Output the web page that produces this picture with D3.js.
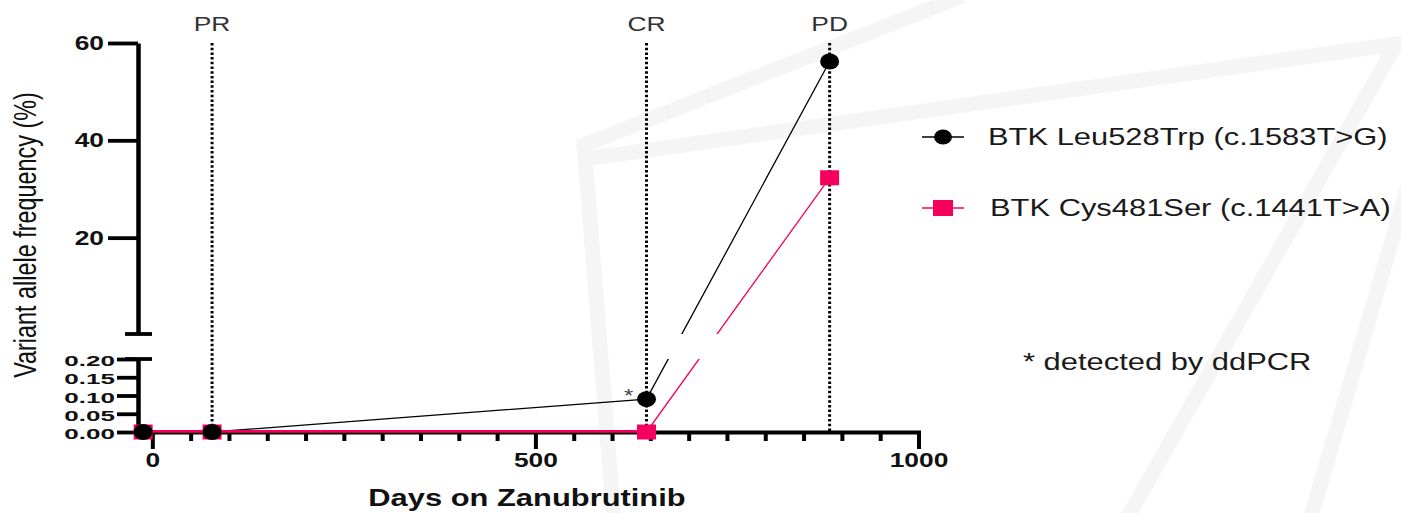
<!DOCTYPE html>
<html>
<head>
<meta charset="utf-8">
<script src="https://cdn.jsdelivr.net/npm/d3@7"></script>
<style>
  body { margin: 0; background: #fff; }
  svg { display: block; font-family: "Liberation Sans", Arial, sans-serif; }
</style>
</head>
<body>
<svg id="chart" width="1401" height="513"></svg>
<script>
// ---- data ----
var days       = [-12, 78, 645, 884];
var leu528trp  = [0, 0, 0.09, 56.2];   // black circles
var cys481ser  = [0, 0, 0, 32.3];      // pink squares
var seriesNames = ["BTK Leu528Trp (c.1583T>G)", "BTK Cys481Ser (c.1441T>A)"];
var eventNames = ["PR", "CR", "PD"];
var eventDays  = [78, 645, 884];
var upperTicks = [20, 40, 60];
var lowerTicks = [0, 0.05, 0.10, 0.15, 0.20];
var xMajorTicks = [0, 500, 1000];
var xMinorTicks = [50, 100, 150, 200, 250, 300, 350, 400, 450, 550, 600, 650, 700, 750, 800, 850, 900, 950];
var footnote = "* detected by ddPCR";

var PINK = "#f5005f";
var SX = 1.32; // the original picture is stretched sideways

var svg = d3.select("#chart");

// faint watermark in the background
var watermark = [
  [[614, 520], [584, 145], [962, -4]],
  [[592, 158], [1396, 44], [1126, 520]],
  [[1408, 186], [1310, 520]]
];
svg.append("g").selectAll("path").data(watermark).join("path")
  .attr("d", d3.line())
  .attr("fill", "none").attr("stroke", "#f5f5f5").attr("stroke-width", 15)
  .attr("stroke-linejoin", "miter");

// ---- scales ----
var x = d3.scaleLinear().domain([-20, 1000]).range([137, 918.5]);
var yLow = d3.scaleLinear().domain([0, 0.2]).range([432, 359]);
var yHigh = d3.scaleLinear().domain([0.2, 60]).range([334, 43]);
function y(v) { return v <= 0.2 ? yLow(v) : yHigh(v); }

function stretchText(sel, dx, dy, sx) {
  sel.attr("x", 0).attr("y", 0)
     .attr("transform", "translate(" + dx + "," + dy + ") scale(" + (sx || SX) + ",1)");
}

// ---- event lines ----
var ev = svg.append("g");
ev.selectAll("line").data(eventDays).join("line")
  .attr("x1", d => x(d)).attr("x2", d => x(d))
  .attr("y1", yHigh(60)).attr("y2", yLow(0))
  .attr("stroke", "#000").attr("stroke-width", 3)
  .attr("stroke-dasharray", "2.5,2.2");
ev.selectAll("text").data(eventNames).join("text")
  .attr("text-anchor", "middle")
  .attr("font-size", 20).attr("fill", "#333")
  .text(d => d)
  .each(function(d, i) { stretchText(d3.select(this), x(eventDays[i]), 31); });

// ---- y axes (broken) ----
var axX = 138;
var gUp = svg.append("g").attr("transform", "translate(" + axX + ",0)")
  .call(d3.axisLeft(yHigh).tickValues(upperTicks).tickSize(30).tickSizeOuter(0).tickPadding(4).tickFormat(d3.format("d")));
var gLow = svg.append("g").attr("transform", "translate(" + axX + ",0)")
  .call(d3.axisLeft(yLow).tickValues(lowerTicks).tickSize(21).tickSizeOuter(0).tickPadding(2).tickFormat(d3.format(".2f")));

[gUp, gLow].forEach(function(g) {
  g.attr("font-family", null).attr("font-size", null);
  g.select(".domain").attr("stroke", "#000").attr("stroke-width", 4.5);
  g.selectAll(".tick line").attr("stroke", "#000").attr("stroke-width", 3.8);
  g.selectAll(".tick text").attr("font-weight", "bold").attr("fill", "#111").attr("dy", null);
});
gUp.selectAll(".tick text").attr("font-size", 20)
  .each(function() { stretchText(d3.select(this), -34, 6.5); });
// the lower labels sit tightly packed, so a smaller size stretched wider
gLow.selectAll(".tick text").attr("font-size", 15.5)
  .each(function() { stretchText(d3.select(this), -23, 6.5, 1.68); });

// break caps
svg.append("g").selectAll("line").data([yHigh.range()[0], yLow.range()[1]]).join("line")
  .attr("x1", axX - 13).attr("x2", axX + 14)
  .attr("y1", d => d).attr("y2", d => d)
  .attr("stroke", "#000").attr("stroke-width", 3.8);

// ---- x axis ----
var gx = svg.append("g").attr("transform", "translate(0," + yLow(0) + ")")
  .call(d3.axisBottom(x).tickValues(xMajorTicks).tickSize(17).tickSizeOuter(0).tickFormat(d3.format("d")));
gx.attr("font-family", null).attr("font-size", null);
gx.select(".domain").attr("stroke", "#000").attr("stroke-width", 4).attr("stroke-linecap", "square");
gx.selectAll(".tick line").attr("stroke", "#000").attr("stroke-width", 4);
gx.selectAll(".tick text").attr("font-size", 20).attr("font-weight", "bold").attr("fill", "#111")
  .attr("dy", null)
  .each(function() { stretchText(d3.select(this), 0, 35); });

var gxm = svg.append("g").attr("transform", "translate(0," + yLow(0) + ")")
  .call(d3.axisBottom(x).tickValues(xMinorTicks).tickSize(9).tickSizeOuter(0).tickFormat(""));
gxm.select(".domain").remove();
gxm.selectAll(".tick line").attr("stroke", "#000").attr("stroke-width", 4);

// ---- axis titles ----
svg.append("text")
  .attr("transform", "translate(36,235) scale(" + SX + ",1) rotate(-90)")
  .attr("text-anchor", "middle").attr("font-size", 23.4).attr("fill", "#111")
  .text("Variant allele frequency (%)");
svg.append("text")
  .attr("text-anchor", "middle").attr("font-size", 23.4).attr("font-weight", "bold").attr("fill", "#111")
  .text("Days on Zanubrutinib")
  .call(stretchText, 527, 506);

// ---- data lines (gap across the axis break) ----
var defs = svg.append("defs");
var clip = defs.append("clipPath").attr("id", "brk");
clip.append("rect").attr("x", 0).attr("y", 0).attr("width", 1401).attr("height", yHigh.range()[0]);
clip.append("rect").attr("x", 0).attr("y", yLow.range()[1]).attr("width", 1401).attr("height", 513 - yLow.range()[1]);

var line = d3.line().x(d => x(d[0])).y(d => y(d[1]));
var blackPts = days.map((d, i) => [d, leu528trp[i]]);
var pinkPts = days.map((d, i) => [d, cys481ser[i]]);

var gl = svg.append("g").attr("clip-path", "url(#brk)");
gl.append("path").attr("d", line(blackPts)).attr("fill", "none").attr("stroke", "#000").attr("stroke-width", 1.3);
gl.append("path").attr("d", line(pinkPts)).attr("fill", "none").attr("stroke", PINK).attr("stroke-width", 1.3);
// the flat stretch of the pink series shows a bit heavier over the axis
gl.append("path").attr("d", line(pinkPts.slice(0, 3))).attr("fill", "none").attr("stroke", PINK).attr("stroke-width", 2)
  .attr("transform", "translate(0,-1)");

// markers
svg.append("g").selectAll("rect").data(pinkPts).join("rect")
  .attr("x", d => x(d[0]) - 9.5).attr("y", d => y(d[1]) - 7.5)
  .attr("width", 19).attr("height", 15).attr("fill", PINK);
svg.append("g").selectAll("ellipse").data(blackPts).join("ellipse")
  .attr("cx", d => x(d[0])).attr("cy", d => y(d[1]))
  .attr("rx", 9.5).attr("ry", 8).attr("fill", "#000");

// ddPCR asterisk next to the CR point
svg.append("text")
  .attr("text-anchor", "middle").attr("font-size", 18).attr("fill", "#444")
  .text("*")
  .call(stretchText, x(days[2]) - 18, y(leu528trp[2]) + 3);

// ---- legend ----
var legY = [137, 208];
var lg = svg.append("g");
lg.selectAll("line").data(legY).join("line")
  .attr("x1", 922).attr("x2", 964).attr("y1", d => d).attr("y2", d => d)
  .attr("stroke", (d, i) => i === 0 ? "#000" : PINK).attr("stroke-width", 1.5);
lg.append("ellipse").attr("cx", 943).attr("cy", legY[0]).attr("rx", 9).attr("ry", 7.5).attr("fill", "#000");
lg.append("rect").attr("x", 933).attr("y", legY[1] - 8).attr("width", 20).attr("height", 16).attr("fill", PINK);
lg.selectAll("text").data(seriesNames).join("text")
  .attr("font-size", 23.4).attr("fill", "#1a1a1a")
  .text(d => d)
  .each(function(d, i) { stretchText(d3.select(this), i === 0 ? 988 : 990, legY[i] + 8); });

svg.append("text")
  .attr("font-size", 23.4).attr("fill", "#1a1a1a")
  .text(footnote)
  .call(stretchText, 1023, 370);
</script>
</body>
</html>
